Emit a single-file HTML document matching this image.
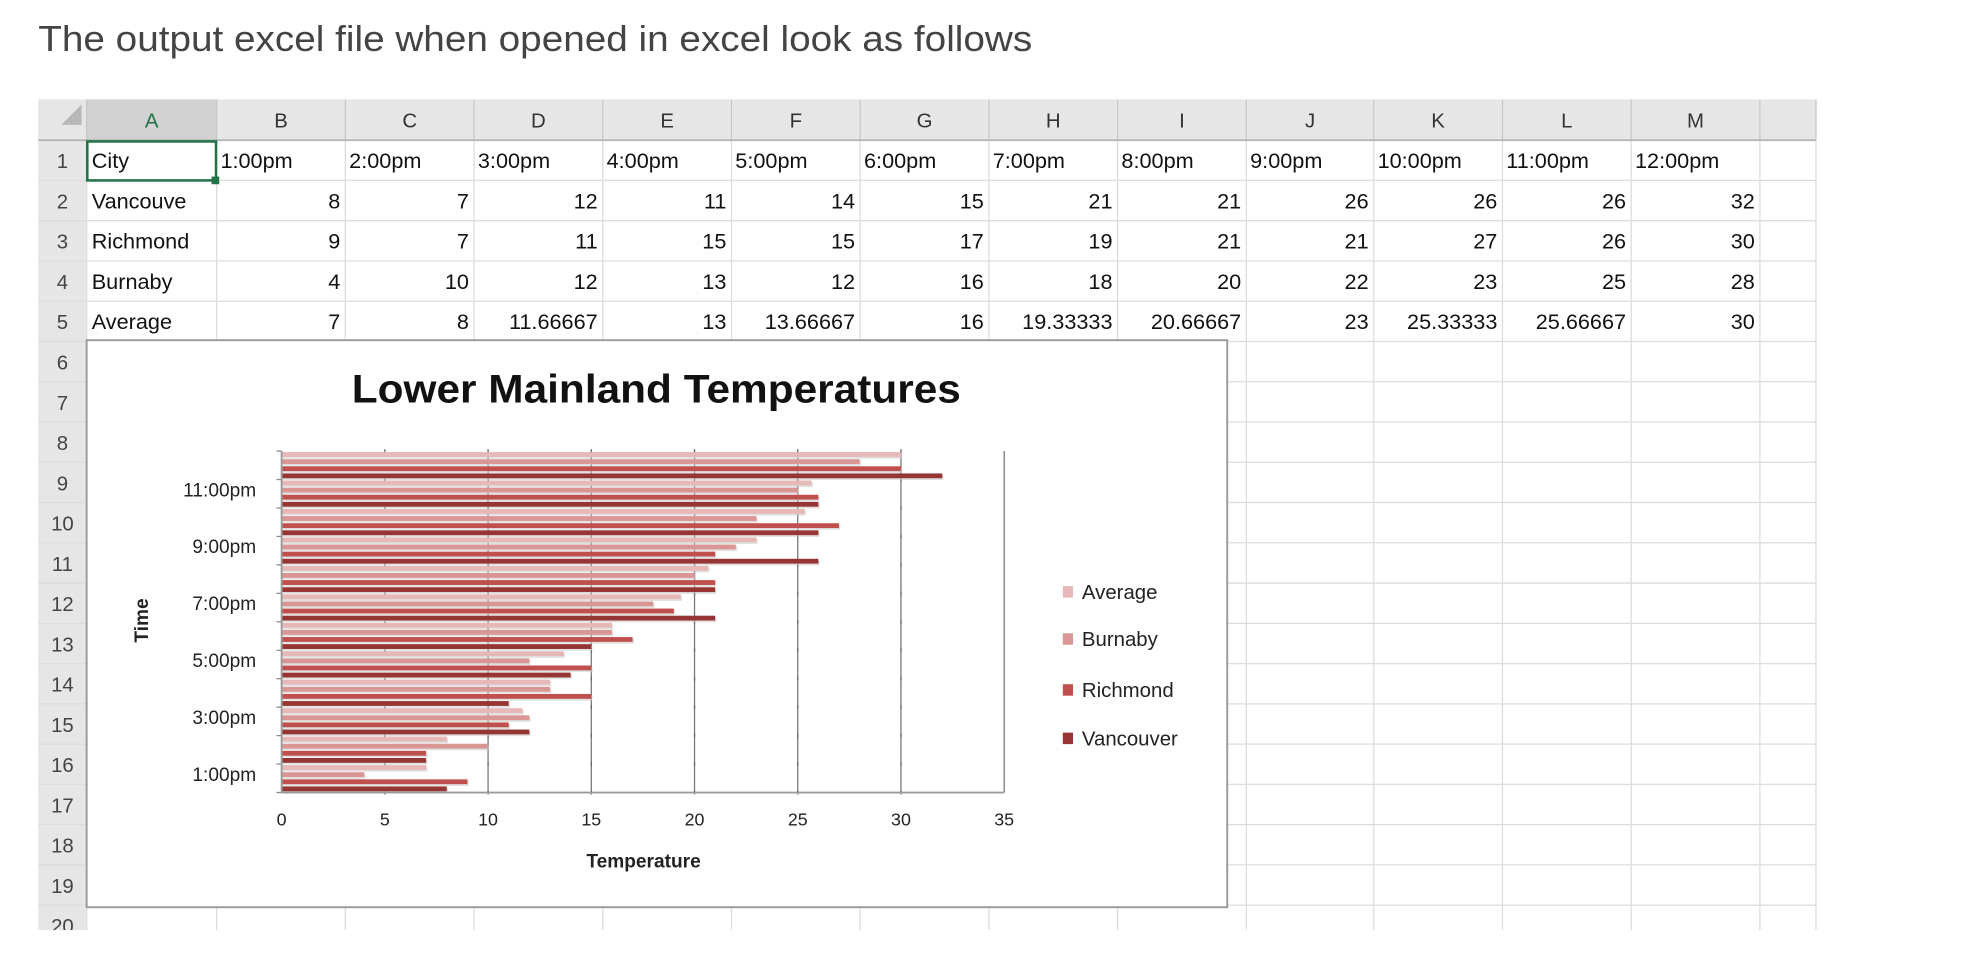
<!DOCTYPE html>
<html><head><meta charset="utf-8"><style>
html,body{margin:0;padding:0;background:#fff;}
svg{display:block;font-family:"Liberation Sans",sans-serif;}
</style></head><body>
<svg id="s" width="1988" height="962" viewBox="0 0 1560 755" preserveAspectRatio="none">
<text x="30" y="40" font-size="28" fill="#444" textLength="780" lengthAdjust="spacingAndGlyphs">The output excel file when opened in excel look as follows</text>
<defs><clipPath id="cp"><rect x="0" y="0" width="1560" height="730"/></clipPath></defs>
<g id="sheet" clip-path="url(#cp)"></g>
<g id="chart"></g>
</svg>
<script>
const times=["1:00pm","2:00pm","3:00pm","4:00pm","5:00pm","6:00pm","7:00pm","8:00pm","9:00pm","10:00pm","11:00pm","12:00pm"];
const vancouver=[8,7,12,11,14,15,21,21,26,26,26,32];
const richmond=[9,7,11,15,15,17,19,21,21,27,26,30];
const burnaby=[4,10,12,13,12,16,18,20,22,23,25,28];
const average=[7,8,11.66667,13,13.66667,16,19.33333,20.66667,23,25.33333,25.66667,30];
const averageText=["7","8","11.66667","13","13.66667","16","19.33333","20.66667","23","25.33333","25.66667","30"];
const xTicks=[0,5,10,15,20,25,30,35];
const seriesNames=["Average","Burnaby","Richmond","Vancouver"];

const NS="http://www.w3.org/2000/svg";
function mk(parent,tag,attrs,text){const e=document.createElementNS(NS,tag);for(const k in attrs)e.setAttribute(k,attrs[k]);if(text!==undefined)e.textContent=text;parent.appendChild(e);return e;}

// Spreadsheet
const sheet=document.getElementById('sheet');
const colX=[30,68,170,271,372,473,574,675,776,877,978,1078,1179,1280,1381,1425];
const letters=["A","B","C","D","E","F","G","H","I","J","K","L","M",""];
const top0=78,hdrH=32,rowH=31.6,nRows=20;
const bottom=730;
mk(sheet,'rect',{x:30,y:top0,width:1395,height:hdrH,fill:'#e6e6e6'});
mk(sheet,'rect',{x:30,y:top0,width:38,height:bottom-top0,fill:'#e6e6e6'});
mk(sheet,'rect',{x:68,y:top0,width:102,height:hdrH,fill:'#d2d2d2'});
mk(sheet,'polygon',{points:'64,82 64,98 48,98',fill:'#b8b8b8'});
for(let i=1;i<colX.length;i++){
  mk(sheet,'line',{x1:colX[i],y1:top0+hdrH,x2:colX[i],y2:bottom,stroke:'#dcdcdc','stroke-width':1});
  mk(sheet,'line',{x1:colX[i],y1:top0,x2:colX[i],y2:top0+hdrH,stroke:'#c8c8c8','stroke-width':1});
  if(i<colX.length-1&&letters[i-1]){
    const t=mk(sheet,'text',{x:(colX[i]+colX[i+1])/2,y:top0+22,'font-size':16,'text-anchor':'middle',fill:i==1?'#217346':'#333'},letters[i-1]);
    
    
  }
}
mk(sheet,'line',{x1:30,y1:top0+hdrH,x2:1425,y2:top0+hdrH,stroke:'#b5b5b5','stroke-width':1.5});
for(let r=0;r<nRows;r++){
  const y=top0+hdrH+r*rowH;
  mk(sheet,'line',{x1:30,y1:y+rowH,x2:1425,y2:y+rowH,stroke:'#dcdcdc','stroke-width':1});
  const t=mk(sheet,'text',{x:49,y:y+22,'font-size':16,'text-anchor':'middle',fill:'#444'},String(r+1));
  
  
}
const rowsData=[["City",times,"l"],["Vancouve",vancouver.map(String),"r"],["Richmond",richmond.map(String),"r"],["Burnaby",burnaby.map(String),"r"],["Average",averageText,"r"]];
rowsData.forEach((rd,r)=>{
  const y=top0+hdrH+r*rowH+22;
  const c=mk(sheet,'text',{x:72,y:y,'font-size':17,fill:'#111'},rd[0]);
  
  
  rd[1].forEach((v,i)=>{
    const a=rd[2]=="l";
    const t=mk(sheet,'text',{x:a?colX[i+2]+3:colX[i+3]-4,y:y,'font-size':17,'text-anchor':a?'start':'end',fill:'#111'},v);
    
    
  });
});
mk(sheet,'rect',{x:68.5,y:top0+hdrH+1,width:101,height:rowH-1,fill:'none',stroke:'#217346','stroke-width':2});
mk(sheet,'rect',{x:166,y:top0+hdrH+rowH-3,width:6,height:6,fill:'#217346'});

// Chart
const ch=document.getElementById('chart');
const box=mk(ch,'rect',{x:68,y:267,width:895,height:445,fill:'#fff',stroke:'#9a9a9a','stroke-width':1.5});


const tt=mk(ch,'text',{x:515,y:316,'font-size':31,'font-weight':'bold','text-anchor':'middle',fill:'#111',textLength:478,lengthAdjust:'spacingAndGlyphs'},'Lower Mainland Temperatures');


const px0=221,px1=788,py0=354,py1=622,xmax=35;
const X=v=>px0+(v/xmax)*(px1-px0);
const catH=(py1-py0)/times.length;
const Ycat=i=>py1-(i+1)*catH;
xTicks.forEach(v=>{
  if(v>=10) mk(ch,'line',{x1:X(v),y1:py0,x2:X(v),y2:py1,stroke:'#777','stroke-width':1});
  const t=mk(ch,'text',{x:X(v),y:648,'font-size':14,'text-anchor':'middle',fill:'#222'},String(v));
  
  
});
for(let i=0;i<=times.length;i++){
  const y=py1-i*catH;
  mk(ch,'line',{x1:px0-4,y1:y,x2:px0,y2:y,stroke:'#888'});
  for(const v of [5,10,15,20,25,30]) mk(ch,'line',{x1:X(v),y1:y-1.5,x2:X(v),y2:y+1.5,stroke:'#666'});
}
const series=[average,burnaby,richmond,vancouver];
const colors=["#e6b8b7","#da9694","#c0504d","#963634"];
const bh=catH/4;
series.forEach((s,si)=>{
  s.forEach((v,i)=>{
    const y=Ycat(i)+si*bh+0.8;
    mk(ch,'rect',{x:px0+1,y:y+1.2,width:X(v)-px0,height:bh-1.6,fill:'#ccc',opacity:0.6});
    const b=mk(ch,'rect',{x:px0,y:y,width:X(v)-px0,height:bh-1.8,fill:colors[si]});
    
    
  });
});
mk(ch,'line',{x1:px0,y1:py0,x2:px0,y2:py1,stroke:'#999','stroke-width':1.5});
mk(ch,'line',{x1:px0,y1:py1,x2:px1,y2:py1,stroke:'#999','stroke-width':1.5});
times.forEach((t,i)=>{
  if(i%2) return;
  const e=mk(ch,'text',{x:201,y:Ycat(i)+catH/2+2,'font-size':15,'text-anchor':'end',fill:'#222'},t);
  
  
});
const xt=mk(ch,'text',{x:505,y:681,'font-size':15,'font-weight':'bold','text-anchor':'middle',fill:'#222'},'Temperature');


const yt=mk(ch,'text',{x:0,y:0,'font-size':15,'font-weight':'bold','text-anchor':'middle',fill:'#222',transform:'translate(116,487) rotate(-90)'},'Time');


const legY=[464,501,541,579];
seriesNames.forEach((n,i)=>{
  const g=mk(ch,'g',{});
  
  
  mk(g,'rect',{x:834,y:legY[i]-4,width:8,height:9,fill:colors[i]});
  mk(g,'text',{x:849,y:legY[i]+6,'font-size':16,fill:'#222'},n);
});
</script>
</body></html>
